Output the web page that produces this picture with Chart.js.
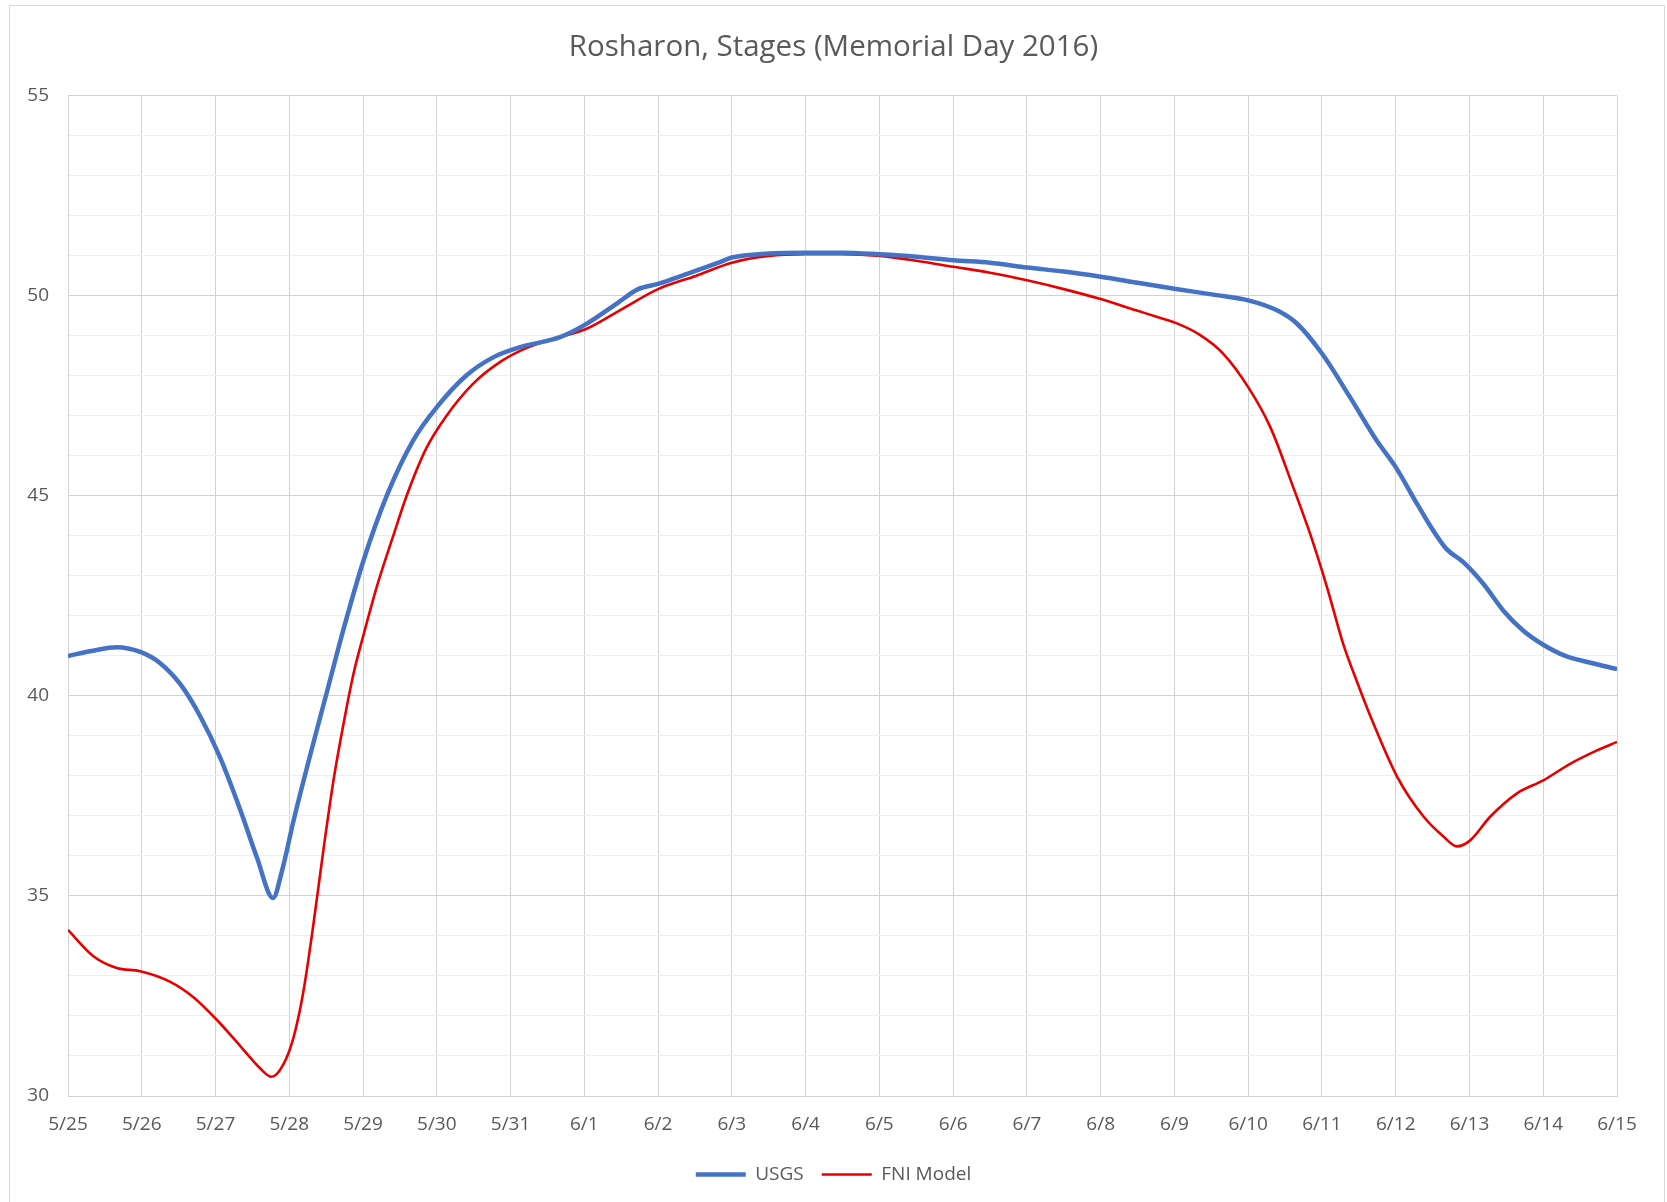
<!DOCTYPE html>
<html>
<head>
<meta charset="utf-8">
<script src="https://cdn.jsdelivr.net/npm/chart.js@4.4.1/dist/chart.umd.min.js"></script>
<style>
  html, body { margin: 0; padding: 0; background: #ffffff; }
  #wrap { width: 1667px; height: 1202px; }
</style>
</head>
<body>
<div id="wrap"><canvas id="c" width="1667" height="1202"></canvas></div>
<script>
// ---- Data (x = days after 5/25/2016) ----
const chartTitle = 'Rosharon, Stages (Memorial Day 2016)';
const xTickLabels = ['5/25','5/26','5/27','5/28','5/29','5/30','5/31','6/1','6/2','6/3','6/4','6/5','6/6','6/7','6/8','6/9','6/10','6/11','6/12','6/13','6/14','6/15'];
const seriesNames = ['USGS', 'FNI Model'];

const usgsDays = [0, 0.34, 0.66, 0.98, 1.25, 1.52, 1.79, 2.06, 2.33, 2.56, 2.78, 2.9, 3.06, 3.33, 3.51, 3.74, 4.0, 4.32, 4.68, 5.0, 5.4, 5.77, 6.13, 6.67, 7.0, 7.44, 7.73, 8.0, 8.25, 8.82, 9.0, 9.5, 10.0, 10.5, 11.0, 11.5, 12.0, 12.5, 13.0, 13.5, 14.0, 14.5, 15.0, 15.57, 16.0, 16.39, 16.66, 17.0, 17.38, 17.74, 18.0, 18.29, 18.51, 18.69, 18.92, 19.19, 19.46, 19.73, 20.0, 20.3, 20.64, 21.0];
const usgsStage = [41.0, 41.13, 41.22, 41.1, 40.82, 40.3, 39.5, 38.47, 37.18, 35.97, 34.95, 35.62, 36.9, 38.85, 40.1, 41.7, 43.35, 45.0, 46.39, 47.22, 48.01, 48.47, 48.72, 48.97, 49.27, 49.81, 50.17, 50.3, 50.46, 50.83, 50.96, 51.06, 51.08, 51.08, 51.04, 50.98, 50.89, 50.83, 50.71, 50.61, 50.48, 50.33, 50.18, 50.02, 49.89, 49.64, 49.31, 48.56, 47.47, 46.39, 45.72, 44.8, 44.13, 43.67, 43.34, 42.8, 42.13, 41.63, 41.28, 41.0, 40.83, 40.67];

const fniDays = [0, 0.34, 0.66, 0.98, 1.38, 1.7, 2.02, 2.33, 2.6, 2.76, 2.92, 3.06, 3.19, 3.33, 3.47, 3.6, 3.74, 3.87, 4.01, 4.19, 4.4, 4.59, 4.86, 5.13, 5.49, 5.86, 6.22, 6.67, 7.03, 7.48, 8.0, 8.51, 9.0, 9.5, 10.0, 10.5, 11.0, 11.5, 12.0, 12.5, 13.0, 13.5, 14.0, 14.48, 14.79, 15.05, 15.35, 15.66, 16.0, 16.3, 16.61, 16.84, 17.07, 17.29, 17.47, 17.66, 18.02, 18.38, 18.65, 18.83, 19.01, 19.28, 19.64, 20.0, 20.37, 20.73, 21.0];
const fniStage = [34.15, 33.5, 33.2, 33.12, 32.86, 32.47, 31.9, 31.26, 30.7, 30.48, 30.79, 31.48, 32.6, 34.33, 36.25, 37.9, 39.35, 40.55, 41.55, 42.75, 43.95, 45.0, 46.2, 47.0, 47.8, 48.35, 48.7, 48.97, 49.18, 49.64, 50.17, 50.5, 50.83, 51.0, 51.04, 51.04, 51.0, 50.88, 50.73, 50.58, 50.39, 50.17, 49.92, 49.64, 49.46, 49.3, 49.02, 48.56, 47.72, 46.72, 45.22, 44.05, 42.71, 41.29, 40.38, 39.48, 37.98, 36.98, 36.48, 36.24, 36.39, 36.98, 37.56, 37.89, 38.31, 38.64, 38.85];

const yMin = 30, yMax = 55, yLabelStep = 5;

// ---- Build ----
const toPoints = (xs, ys) => xs.map((x, i) => ({ x: x, y: ys[i] }));
const FONT = "'Open Sans', 'DejaVu Sans', sans-serif";
const TEXT = '#595959';

const frame = {
  id: 'frame',
  beforeDraw(chart) {
    const ctx = chart.ctx;
    ctx.save();
    ctx.fillStyle = '#ffffff';
    ctx.fillRect(0, 0, chart.width, chart.height);
    ctx.strokeStyle = '#d9d9d9';
    ctx.lineWidth = 1;
    ctx.strokeRect(9.5, 5.5, 1655, 1230);
    ctx.restore();
  }
};

new Chart(document.getElementById('c'), {
  type: 'line',
  data: {
    datasets: [
      { label: seriesNames[0], data: toPoints(usgsDays, usgsStage), borderColor: '#4472C4', backgroundColor: '#4472C4', borderWidth: 4.5, pointRadius: 0, cubicInterpolationMode: 'monotone', fill: false, yAxisID: 'y' },
      { label: seriesNames[1], data: toPoints(fniDays, fniStage), borderColor: '#E80000', backgroundColor: '#E80000', borderWidth: 2.6, pointRadius: 0, cubicInterpolationMode: 'monotone', fill: false, yAxisID: 'y' }
    ]
  },
  options: {
    responsive: false,
    animation: false,
    events: [],
    layout: { padding: { left: 0, right: 0, top: 0, bottom: 8 } },
    plugins: {
      title: {
        display: true, text: chartTitle, color: TEXT,
        font: { family: FONT, size: 29.5, weight: 'normal' },
        padding: { top: 29.5, bottom: 31 }
      },
      legend: {
        position: 'bottom',
        labels: {
          usePointStyle: true, pointStyle: 'line', pointStyleWidth: 50,
          color: TEXT, font: { family: FONT, size: 19 }, padding: 18
        }
      },
      tooltip: { enabled: false }
    },
    scales: {
      x: {
        type: 'linear', min: 0, max: xTickLabels.length - 1,
        afterFit(s) { s.height = 51; },
        ticks: {
          stepSize: 1, autoSkip: false, maxRotation: 0, padding: 17,
          color: TEXT, font: { family: FONT, size: 19 },
          callback: (v) => xTickLabels[v] !== undefined ? xTickLabels[v] : ''
        },
        grid: { color: '#d2d2d2', lineWidth: 1, drawTicks: false },
        border: { color: '#d2d2d2' }
      },
      y: {
        min: yMin, max: yMax,
        afterFit(s) { s.width = 68; },
        ticks: {
          stepSize: 1, autoSkip: false, padding: 19,
          color: TEXT, font: { family: FONT, size: 19 },
          callback: (v) => (v % yLabelStep === 0 ? String(v) : '')
        },
        grid: {
          drawTicks: false, lineWidth: 1,
          color: (c) => (c.tick && c.tick.value % yLabelStep === 0 ? '#d2d2d2' : '#eeeeee')
        },
        border: { color: '#d2d2d2' }
      },
      yRight: {
        position: 'right', min: yMin, max: yMax,
        afterFit(s) { s.width = 50; },
        ticks: { display: false },
        grid: { display: false, drawTicks: false },
        border: { display: false }
      }
    }
  },
  plugins: [frame]
});
</script>
</body>
</html>
